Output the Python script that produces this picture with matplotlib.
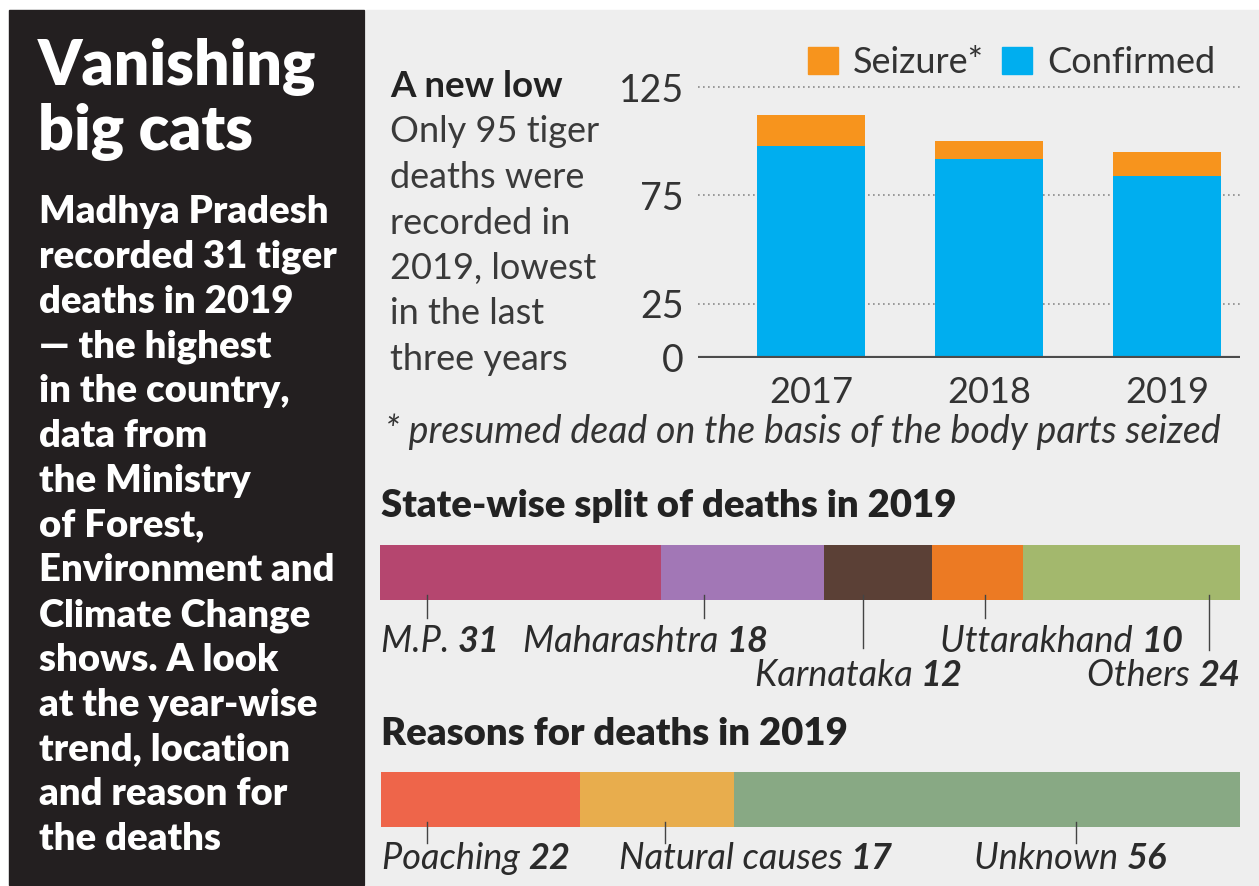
import matplotlib
matplotlib.use('Agg')
import matplotlib.pyplot as plt
from matplotlib.patches import Rectangle, Patch

plt.rcParams['font.family'] = ['Lato', 'DejaVu Sans']

# data
years = ['2017', '2018', '2019']
confirmed = [98, 92, 84]
seizure = [14, 8, 11]

states = ['M.P.', 'Maharashtra', 'Karnataka', 'Uttarakhand', 'Others']
state_deaths = [31, 18, 12, 10, 24]
state_colors = ['#b5466f', '#a277b6', '#5b4036', '#ec7a23', '#a3b86d']

reasons = ['Poaching', 'Natural causes', 'Unknown']
reason_deaths = [22, 17, 56]
reason_colors = ['#ee654a', '#e8ad4d', '#88a984']

title_lines = ['Vanishing', 'big cats']
side_lines = ['Madhya Pradesh', 'recorded 31 tiger', 'deaths in 2019',
              '\u2014 the highest', 'in the country,', 'data from',
              'the Ministry', 'of Forest,', 'Environment and',
              'Climate Change', 'shows. A look', 'at the year-wise',
              'trend, location', 'and reason for', 'the deaths']
intro_title = 'A new low'
intro_lines = ['Only 95 tiger', 'deaths were', 'recorded in',
               '2019, lowest', 'in the last', 'three years']

BLUE = '#00aeef'
ORANGE = '#f7941d'
DARK = '#2b2b2b'

W, H = 1259, 886


def rect(x0, y0, x1, y1):
    return [x0 / W, 1 - y1 / H, (x1 - x0) / W, (y1 - y0) / H]


def ftext(x, y, s, **kw):
    return fig.text(x / W, 1 - y / H, s, va='baseline', **kw)


fig = plt.figure(figsize=(W / 100, H / 100), dpi=100, facecolor='white')

# backgrounds
fig.patches.append(Rectangle((9 / W, 1 - 885 / H), 355 / W, 875 / H,
                             transform=fig.transFigure, color='#231f20', zorder=-5))
fig.patches.append(Rectangle((366 / W, 0), (W - 366) / W, 876 / H,
                             transform=fig.transFigure, color='#eeeeee', zorder=-5))

# left panel
for i, s in enumerate(title_lines):
    ftext(38, 85 + 65 * i, s, color='white', fontsize=45, fontweight='heavy')
for i, s in enumerate(side_lines):
    ftext(39, 223 + 44.8 * i, s, color='white', fontsize=27.5, fontweight='heavy')

# intro text
ftext(390, 97, intro_title, color='#222222', fontsize=26.5, fontweight='bold')
for i, s in enumerate(intro_lines):
    ftext(390, 97 + 45.5 * (i + 1), s, color='#3a3a3a', fontsize=26)

# stacked bars
ax = fig.add_axes(rect(698, 87, 1240, 358))
x = range(len(years))
ax.bar(x, confirmed, width=0.607, color=BLUE, zorder=2)
ax.bar(x, seizure, width=0.607, bottom=confirmed, color=ORANGE, zorder=2)
for v in [25, 75, 125]:
    ax.axhline(v, ls=(0, (1, 2)), color='#8a8a8a', lw=1.2, zorder=0, clip_on=False)
ax.axhline(0, color='#4b4b4b', lw=3, zorder=3)
ax.set_xlim(-0.635, 2.41)
ax.set_ylim(0, 125)
ax.set_yticks([0, 25, 75, 125])
ax.set_xticks(list(x), years)
ax.tick_params(axis='y', length=0, pad=10, labelsize=27, labelcolor='#333333')
ax.tick_params(axis='x', length=0, pad=13, labelsize=26, labelcolor='#333333')
for sp in ax.spines.values():
    sp.set_visible(False)
ax.patch.set_visible(False)

ax.legend(handles=[Patch(color=ORANGE, label='Seizure*'),
                   Patch(color=BLUE, label='Confirmed')],
          loc='upper right', bbox_to_anchor=(1215 / W, 1 - 46 / H),
          bbox_transform=fig.transFigure, ncol=2, frameon=False, fontsize=26,
          handlelength=0.85, handleheight=0.75, handletextpad=0.4,
          columnspacing=0.5, borderpad=0, borderaxespad=0,
          labelcolor='#333333')

ftext(385, 443, '* presumed dead on the basis of the body parts seized',
      color='#333333', fontsize=27, fontstyle='italic')


def split_bar(box, values, colors, names, ticks, labels, label_size):
    a = fig.add_axes(rect(*box))
    left = 0
    for v, c in zip(values, colors):
        a.barh(0.5, v, height=1, left=left, color=c)
        left += v
    a.set_xlim(0, sum(values))
    a.set_ylim(0, 1)
    a.axis('off')
    for tx, tlen in ticks:
        a.plot([tx, tx], [0.1, -tlen], color='#444444', lw=1, clip_on=False)
    for (lx, ly, ha), n, v in zip(labels, names, values):
        if ha == 'left':
            t = a.text(lx, ly, n + ' ', ha='left', va='bottom', fontsize=label_size,
                       fontstyle='italic', color=DARK)
            a.annotate(str(v), xy=(1, 0), xycoords=t, ha='left', va='bottom',
                       fontsize=label_size, fontstyle='italic', fontweight='bold',
                       color=DARK)
        else:
            t = a.text(lx, ly, str(v), ha='right', va='bottom', fontsize=label_size,
                       fontstyle='italic', fontweight='bold', color=DARK)
            a.annotate(n + ' ', xy=(0, 0), xycoords=t, ha='right', va='bottom',
                       fontsize=label_size, fontstyle='italic', color=DARK)
    return a


ftext(381, 517, 'State-wise split of deaths in 2019', color='#222222',
      fontsize=27.5, fontweight='heavy')
split_bar((380, 545, 1240, 600), state_deaths, state_colors, states,
          [(5.2, 0.33), (35.8, 0.33), (53.4, 0.87), (66.8, 0.33), (91.6, 0.9)],
          [(0.1, -1.05, 'left'), (15.8, -1.05, 'left'), (41.4, -1.68, 'left'),
           (61.9, -1.05, 'left'), (95, -1.68, 'right')], 26)

ftext(381, 745, 'Reasons for deaths in 2019', color='#222222',
      fontsize=27.5, fontweight='heavy')
split_bar((381, 772, 1240, 827), reason_deaths, reason_colors, reasons,
          [(5.1, 0.29), (31.4, 0.29), (76.9, 0.29)],
          [(0.1, -0.88, 'left'), (26.3, -0.88, 'left'), (65.6, -0.88, 'left')], 26)

fig.savefig('out.png', dpi=100, facecolor=fig.get_facecolor())
